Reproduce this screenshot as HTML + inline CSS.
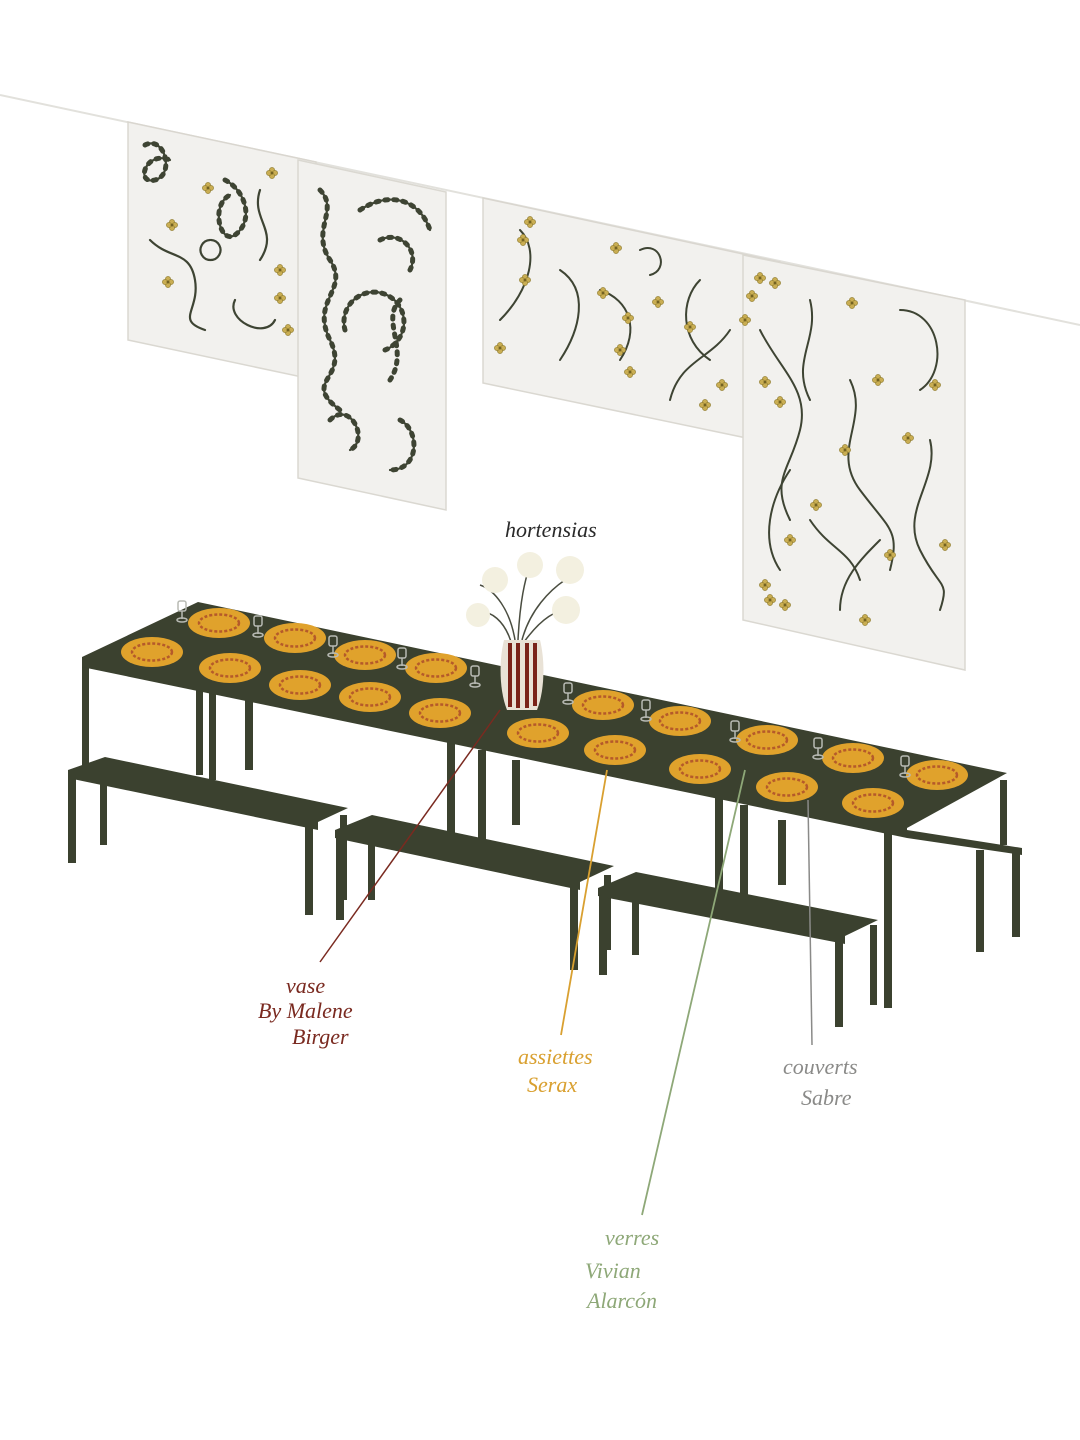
<!DOCTYPE html>
<html><head><meta charset="utf-8"><style>
html,body{margin:0;padding:0;background:#fff;}
svg{display:block}
.lab{font-family:"Liberation Serif",serif;font-style:italic;font-size:22px}
</style></head><body>
<svg width="1080" height="1440" viewBox="0 0 1080 1440" xmlns="http://www.w3.org/2000/svg">
<defs>
<g id="pl"><ellipse cx="0" cy="0" rx="31" ry="15" fill="#e0a22c"/><ellipse cx="0" cy="0" rx="20" ry="8.5" fill="none" stroke="#b55a2a" stroke-width="2.5" stroke-dasharray="3 2"/></g>
<g id="gl" fill="none" stroke="#b8bab4" stroke-width="1.5"><rect x="-4" y="-14" width="8" height="10" rx="2"/><line x1="0" y1="-4" x2="0" y2="4"/><ellipse cx="0" cy="5" rx="5" ry="2"/></g>
<g id="fl" fill="#c9ad52" stroke="#8d7a2e" stroke-width=".6"><circle cx="0" cy="-3" r="2.6"/><circle cx="3" cy="0" r="2.6"/><circle cx="0" cy="3" r="2.6"/><circle cx="-3" cy="0" r="2.6"/><circle r="1.3" fill="#6b5a20"/></g>
</defs>
<line x1="0" y1="95" x2="1080" y2="325" stroke="#e2e1dc" stroke-width="2"/>
<g fill="#f2f1ee" stroke="#d9d6cf" stroke-width="1.5" opacity=".95">
<polygon points="128,122 316,162 316,380 128,340"/>
<polygon points="298,160 446,192 446,510 298,478"/>
<polygon points="483,198 780,262 780,445 483,383"/>
<polygon points="743,255 965,300 965,670 743,620"/>
</g>
<g id="vines1" fill="none" stroke="#3e4433" stroke-width="2.2" stroke-linecap="round">
<path d="M145,145 c20,-10 30,30 10,35 c-20,5 -10,-30 15,-20"/><path d="M225,180 c20,10 30,40 10,55 c-15,10 -25,-30 -5,-40"/>
<path d="M150,240 c20,20 40,10 45,40 s-20,40 10,50"/><path d="M235,300 c-10,20 30,40 40,20"/><path d="M210,240 a10,10 0 1 0 1,0"/>
<path d="M260,190 c-10,30 20,40 0,70"/><path d="M320,190 c20,20 -10,40 10,70 s-20,40 0,80 s-30,40 10,70"/>
<path d="M360,210 c30,-20 60,-10 70,20"/><path d="M345,330 a30,30 0 1 1 40,20"/><path d="M330,420 c20,-20 40,20 20,30"/>
<path d="M400,420 c20,10 20,50 -10,50"/><path d="M380,240 c20,-10 40,10 30,30"/>
</g>
<g fill="none" stroke="#3e4433" stroke-width="5" stroke-dasharray="3 6" stroke-linecap="round">
<path d="M145,145 c20,-10 30,30 10,35 c-20,5 -10,-30 15,-20"/><path d="M225,180 c20,10 30,40 10,55 c-15,10 -25,-30 -5,-40"/>
<path d="M320,190 c20,20 -10,40 10,70 s-20,40 0,80 s-30,40 10,70"/>
<path d="M360,210 c30,-20 60,-10 70,20"/><path d="M345,330 a30,30 0 1 1 40,20"/><path d="M330,420 c20,-20 40,20 20,30"/>
<path d="M400,420 c20,10 20,50 -10,50"/><path d="M380,240 c20,-10 40,10 30,30"/><path d="M400,300 c-20,20 10,50 -10,80"/>
</g>
<g fill="none" stroke="#3e4433" stroke-width="2" stroke-linecap="round">
<path d="M520,230 c20,20 10,60 -20,90"/><path d="M560,270 c30,20 20,60 0,90"/><path d="M640,250 c20,-10 30,20 10,25"/>
<path d="M600,290 c30,10 40,40 20,70"/><path d="M700,280 c-20,20 -20,60 10,80"/><path d="M730,330 c-20,30 -50,30 -60,70"/>
<path d="M760,330 c20,40 50,60 40,100 s-30,50 -10,90"/><path d="M900,310 c40,0 50,60 20,80"/><path d="M810,300 c10,40 -20,60 0,100"/>
<path d="M850,380 c20,40 -20,70 10,110 s40,40 30,80"/><path d="M930,440 c10,40 -30,70 -10,110 s30,30 20,60"/>
<path d="M790,470 c-20,30 -30,70 -10,100"/><path d="M880,540 c-20,20 -40,40 -40,70"/><path d="M810,520 c20,30 40,30 50,60"/>
</g>
<g>
<use href="#fl" x="208" y="188"/><use href="#fl" x="272" y="173"/><use href="#fl" x="172" y="225"/><use href="#fl" x="280" y="270"/><use href="#fl" x="280" y="298"/><use href="#fl" x="168" y="282"/><use href="#fl" x="288" y="330"/>
<use href="#fl" x="530" y="222"/><use href="#fl" x="523" y="240"/><use href="#fl" x="616" y="248"/><use href="#fl" x="603" y="293"/><use href="#fl" x="628" y="318"/><use href="#fl" x="658" y="302"/><use href="#fl" x="500" y="348"/><use href="#fl" x="525" y="280"/><use href="#fl" x="620" y="350"/><use href="#fl" x="630" y="372"/><use href="#fl" x="722" y="385"/><use href="#fl" x="705" y="405"/><use href="#fl" x="745" y="320"/><use href="#fl" x="690" y="327"/>
<use href="#fl" x="760" y="278"/><use href="#fl" x="775" y="283"/><use href="#fl" x="752" y="296"/><use href="#fl" x="852" y="303"/><use href="#fl" x="878" y="380"/><use href="#fl" x="935" y="385"/><use href="#fl" x="765" y="382"/><use href="#fl" x="780" y="402"/><use href="#fl" x="908" y="438"/><use href="#fl" x="845" y="450"/><use href="#fl" x="816" y="505"/><use href="#fl" x="790" y="540"/><use href="#fl" x="890" y="555"/><use href="#fl" x="945" y="545"/><use href="#fl" x="765" y="585"/><use href="#fl" x="785" y="605"/><use href="#fl" x="770" y="600"/><use href="#fl" x="865" y="620"/>
</g>
<g fill="#3b412f">
<rect x="196" y="615" width="7" height="160"/><rect x="245" y="700" width="8" height="70"/><rect x="1000" y="780" width="7" height="65"/>
<rect x="82" y="660" width="7" height="120"/><rect x="209" y="690" width="7" height="90"/>
<rect x="447" y="740" width="8" height="95"/><rect x="478" y="750" width="8" height="90"/><rect x="512" y="760" width="8" height="65"/>
<rect x="715" y="795" width="8" height="110"/><rect x="740" y="805" width="8" height="90"/><rect x="778" y="820" width="8" height="65"/>
<rect x="884" y="830" width="8" height="178"/>
<polygon points="82,657 198,602 1007,773 907,828 907,838 82,667"/>
<polygon points="68,770 105,757 348,808 318,822 318,830 68,778"/>
<rect x="68" y="775" width="8" height="88"/><rect x="100" y="770" width="7" height="75"/><rect x="305" y="820" width="8" height="95"/><rect x="340" y="815" width="7" height="85"/>
<polygon points="335,830 372,815 614,866 580,882 580,890 335,838"/>
<rect x="336" y="835" width="8" height="85"/><rect x="368" y="830" width="7" height="70"/><rect x="570" y="885" width="8" height="85"/><rect x="604" y="875" width="7" height="75"/>
<polygon points="598,888 636,872 878,920 845,936 845,944 598,896"/>
<rect x="599" y="893" width="8" height="82"/><rect x="632" y="885" width="7" height="70"/><rect x="835" y="940" width="8" height="87"/><rect x="870" y="925" width="7" height="80"/>
<polygon points="907,830 1022,848 1022,855 907,838"/>
<rect x="976" y="850" width="8" height="102"/><rect x="1012" y="852" width="8" height="85"/>
</g>
<g>
<use href="#pl" x="219" y="623"/><use href="#pl" x="295" y="638"/><use href="#pl" x="365" y="655"/><use href="#pl" x="436" y="668"/><use href="#pl" x="603" y="705"/><use href="#pl" x="680" y="721"/><use href="#pl" x="767" y="740"/><use href="#pl" x="853" y="758"/><use href="#pl" x="937" y="775"/>
<use href="#pl" x="152" y="652"/><use href="#pl" x="230" y="668"/><use href="#pl" x="300" y="685"/><use href="#pl" x="370" y="697"/><use href="#pl" x="440" y="713"/><use href="#pl" x="538" y="733"/><use href="#pl" x="615" y="750"/><use href="#pl" x="700" y="769"/><use href="#pl" x="787" y="787"/><use href="#pl" x="873" y="803"/>
<use href="#gl" x="182" y="615"/><use href="#gl" x="258" y="630"/><use href="#gl" x="333" y="650"/><use href="#gl" x="402" y="662"/><use href="#gl" x="475" y="680"/><use href="#gl" x="568" y="697"/><use href="#gl" x="646" y="714"/><use href="#gl" x="735" y="735"/><use href="#gl" x="818" y="752"/><use href="#gl" x="905" y="770"/>
</g>
<g stroke="#4a4d40" stroke-width="1.5" fill="none"><path d="M515,640 C510,610 495,590 480,585"/><path d="M518,640 C520,600 525,580 530,565"/><path d="M522,640 C530,610 550,590 565,580"/><path d="M524,642 C540,620 555,610 568,610"/><path d="M512,645 C505,620 490,610 478,612"/></g>
<g fill="#f3f0e0"><circle cx="495" cy="580" r="13"/><circle cx="530" cy="565" r="13"/><circle cx="570" cy="570" r="14"/><circle cx="566" cy="610" r="14"/><circle cx="478" cy="615" r="12"/></g>
<path d="M504,640 h36 c5,20 5,50 -3,70 h-30 c-8,-20 -8,-50 -3,-70z" fill="#e9e2d6"/>
<g stroke="#7a2319" stroke-width="4"><line x1="510" y1="643" x2="510" y2="707"/><line x1="518" y1="643" x2="518" y2="708"/><line x1="527" y1="643" x2="527" y2="708"/><line x1="535" y1="643" x2="535" y2="706"/></g>
<line x1="500" y1="710" x2="320" y2="962" stroke="#7a2a20" stroke-width="1.5"/>
<line x1="607" y1="770" x2="561" y2="1035" stroke="#d9a030" stroke-width="1.8"/>
<line x1="745" y1="770" x2="642" y2="1215" stroke="#8ea878" stroke-width="1.8"/>
<line x1="808" y1="800" x2="812" y2="1045" stroke="#8a8a88" stroke-width="1.5"/>
<text class="lab" x="505" y="537" fill="#2a2a2a">hortensias</text>
<g class="lab" fill="#7a2a20"><text x="286" y="993">vase</text><text x="258" y="1018">By Malene</text><text x="292" y="1044">Birger</text></g>
<g class="lab" fill="#d9a030"><text x="518" y="1064">assiettes</text><text x="527" y="1092">Serax</text></g>
<g class="lab" fill="#8a8a88"><text x="783" y="1074">couverts</text><text x="801" y="1105">Sabre</text></g>
<g class="lab" fill="#8ea878"><text x="605" y="1245">verres</text><text x="585" y="1278">Vivian</text><text x="587" y="1308">Alarcón</text></g>
</svg>
</body></html>
